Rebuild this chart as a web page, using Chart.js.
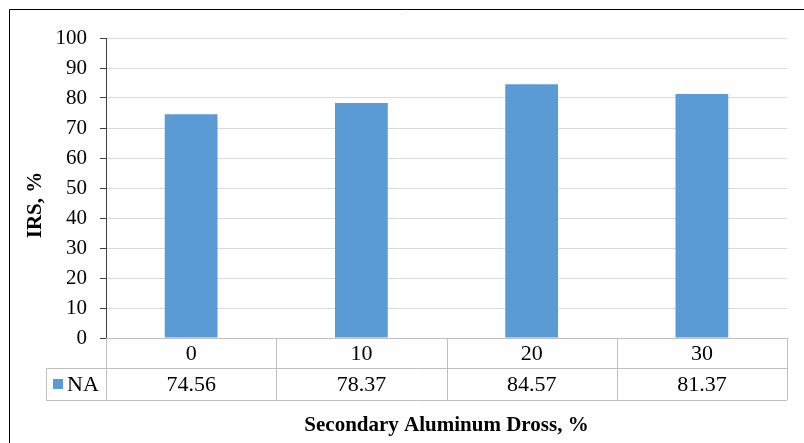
<!DOCTYPE html>
<html>
<head>
<meta charset="utf-8">
<script src="https://cdn.jsdelivr.net/npm/chart.js@4/dist/chart.umd.min.js"></script>
<style>
html,body{margin:0;padding:0;background:#fff;}
#wrap{width:804px;height:443px;position:relative;}
</style>
</head>
<body>
<div id="wrap"><canvas id="c" width="804" height="443"></canvas></div>
<script>
const categories = ['0', '10', '20', '30'];
const seriesName = 'NA';
const values = [74.56, 78.37, 84.57, 81.37];
const valueLabels = ['74.56', '78.37', '84.57', '81.37'];
const yMin = 0, yMax = 100, yStep = 10;
const yTitle = 'IRS, %';
const xTitle = 'Secondary Aluminum Dross, %';

const FONT = "'Liberation Serif', 'Times New Roman', serif";
const BLUE = '#5B9BD5';

const tablePlugin = {
  id: 'dataTable',
  afterDraw(chart) {
    const ctx = chart.ctx;
    const ca = chart.chartArea;
    const xs = chart.scales.x;
    const n = categories.length;
    const w = (ca.right - ca.left) / n;
    const row1Top = ca.bottom, row1Bot = ca.bottom + 30, row2Bot = ca.bottom + 62;
    const legLeft = 46;
    ctx.save();
    // outer frame of the chart (left and top)
    ctx.strokeStyle = '#000';
    ctx.lineWidth = 1;
    ctx.beginPath();
    ctx.moveTo(9.5, 443); ctx.lineTo(9.5, 9.5); ctx.lineTo(804, 9.5);
    ctx.stroke();
    // table lines
    ctx.strokeStyle = '#bfbfbf';
    ctx.lineWidth = 1;
    ctx.beginPath();
    ctx.moveTo(ca.left, row1Top + 0.5); ctx.lineTo(ca.right, row1Top + 0.5);
    ctx.moveTo(legLeft, row1Bot + 0.5); ctx.lineTo(ca.right, row1Bot + 0.5);
    ctx.moveTo(legLeft, row2Bot + 0.5); ctx.lineTo(ca.right, row2Bot + 0.5);
    ctx.moveTo(legLeft + 0.5, row1Bot); ctx.lineTo(legLeft + 0.5, row2Bot);
    for (let i = 0; i <= n; i++) {
      const x = Math.round(ca.left + i * w) + 0.5;
      ctx.moveTo(x, row1Top); ctx.lineTo(x, row2Bot);
    }
    ctx.stroke();
    // texts
    ctx.fillStyle = '#000';
    ctx.font = '22px ' + FONT;
    ctx.textAlign = 'center';
    ctx.textBaseline = 'middle';
    for (let i = 0; i < n; i++) {
      const cx = xs.getPixelForValue(i);
      ctx.fillText(categories[i], cx, 354);
      ctx.fillText(valueLabels[i], cx, 385);
    }
    // legend key
    ctx.fillStyle = BLUE;
    ctx.fillRect(53, 379, 10, 10);
    ctx.fillStyle = '#000';
    ctx.textAlign = 'left';
    ctx.fillText(seriesName, 67, 385);
    // y axis title
    ctx.save();
    ctx.translate(36, 205);
    ctx.rotate(-Math.PI / 2);
    ctx.font = 'bold 21px ' + FONT;
    ctx.textAlign = 'center';
    ctx.textBaseline = 'middle';
    ctx.fillText(yTitle, 0, 0);
    ctx.restore();
    ctx.restore();
  }
};

new Chart(document.getElementById('c'), {
  type: 'bar',
  data: {
    labels: categories,
    datasets: [{
      label: seriesName,
      data: values,
      backgroundColor: BLUE,
      borderWidth: 0,
      barPercentage: 0.31,
      categoryPercentage: 1.0
    }]
  },
  options: {
    responsive: false,
    animation: false,
    devicePixelRatio: 1,
    layout: { padding: { top: 38, right: 17, left: 0, bottom: 0 } },
    plugins: { legend: { display: false }, tooltip: { enabled: false } },
    scales: {
      x: {
        grid: { display: false, drawTicks: false },
        border: { display: false },
        ticks: { display: false },
        title: {
          display: true, text: xTitle, color: '#000',
          font: { family: FONT, size: 21, weight: 'bold' },
          padding: { top: 0, bottom: 5 }
        },
        afterFit(s) { s.height = 105; }
      },
      y: {
        min: yMin, max: yMax,
        ticks: { stepSize: yStep, color: '#000', padding: 13, font: { family: FONT, size: 21 } },
        grid: { color: '#d9d9d9', tickColor: '#404040', tickLength: 6, lineWidth: 1 },
        border: { display: true, color: '#404040' },
        title: { display: false },
        afterFit(s) { s.width = 106; }
      }
    }
  },
  plugins: [tablePlugin]
});
</script>
</body>
</html>
